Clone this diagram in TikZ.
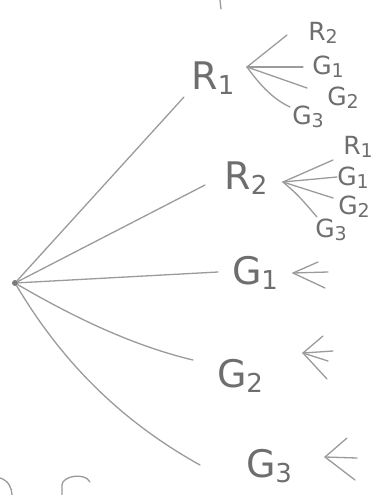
\documentclass[tikz,border=0pt]{standalone}
\usepackage{fontspec}
\setmainfont{DejaVu Sans}
\definecolor{txt}{RGB}{110,110,110}
\definecolor{lnc}{RGB}{155,155,155}
\newcommand\bigsz{\fontsize{38}{38}\selectfont}
\newcommand\subbig[1]{\raisebox{-5pt}{\fontsize{26}{26}\selectfont #1}}
\newcommand\smsz{\fontsize{25}{25}\selectfont}
\newcommand\subsm[1]{\raisebox{-3pt}{\fontsize{19}{19}\selectfont #1}}
\begin{document}
\begin{tikzpicture}[x=1pt,y=-1pt,
  ln/.style={draw=lnc,line width=1.3pt,line cap=round,line join=round},
  bigl/.style={text=txt,font=\bigsz,inner sep=0pt},
  sml/.style={text=txt,font=\smsz,inner sep=0pt}]
\fill[white] (0,0) rectangle (380,495);
\useasboundingbox (0,0) rectangle (380,495);

% root
\node[circle,fill=lnc!80!black,minimum size=6pt,inner sep=0pt] (root) at (15,283) {};

% level-1 labels
\node[bigl] (R1a) at (213,78) {R\subbig{1}};
\node[bigl] (R2a) at (246,178) {R\subbig{2}};
\node[bigl] (G1a) at (255,273) {G\subbig{1}};
\node[bigl] (G2a) at (240,376) {G\subbig{2}};
\node[bigl] (G3a) at (269,466) {G\subbig{3}};

% line ends
\coordinate (eR1) at (184,97);
\coordinate (eR2) at (205,185);
\coordinate (eG1) at (218,272);
\coordinate (eG2) at (193,360);
\coordinate (eG3) at (200,465);

\draw[ln] (root) -- (eR1);
\draw[ln] (root) -- (eR2);
\draw[ln] (root) -- (eG1);
\draw[ln] (root) .. controls (70,315) and (130,345) .. (eG2);
\draw[ln] (root) .. controls (55,350) and (110,415) .. (eG3);

% R1 fan
\coordinate (f1) at (247,67);
\node[sml] (s11) at (323,33) {R\subsm{2}};
\node[sml] (s12) at (328,67) {G\subsm{1}};
\node[sml] (s13) at (343,98) {G\subsm{2}};
\node[sml] (s14) at (308,117) {G\subsm{3}};
\coordinate (f1a) at (287,35);
\coordinate (f1b) at (303,67);
\coordinate (f1c) at (307,88);
\coordinate (f1d) at (290,107);
\draw[ln] (f1) -- (f1a);
\draw[ln] (f1) -- (f1b);
\draw[ln] (f1) -- (f1c);
\draw[ln] (f1) .. controls (262,88) and (275,100) .. (f1d);

% R2 fan
\coordinate (f2) at (283,182);
\node[sml] (s21) at (358,147) {R\subsm{1}};
\node[sml] (s22) at (353,178) {G\subsm{1}};
\node[sml] (s23) at (354,207) {G\subsm{2}};
\node[sml] (s24) at (331,230) {G\subsm{3}};
\coordinate (f2a) at (333,160);
\coordinate (f2b) at (337,177);
\coordinate (f2c) at (333,198);
\coordinate (f2d) at (317,217);
\draw[ln] (f2) -- (f2a);
\draw[ln] (f2) -- (f2b);
\draw[ln] (f2) -- (f2c);
\draw[ln] (f2) .. controls (298,195) .. (f2d);

% G1 stub
\coordinate (a1) at (293,273);
\coordinate (a1a) at (318,262);
\coordinate (a1b) at (328,272);
\coordinate (a1c) at (325,288);
\draw[ln] (a1) -- (a1a);
\draw[ln] (a1) -- (a1b);
\draw[ln] (a1) -- (a1c);

% G2 stub
\coordinate (a2) at (303,353);
\coordinate (a2a) at (323,336);
\coordinate (a2b) at (333,351);
\coordinate (a2c) at (328,361);
\coordinate (a2d) at (327,379);
\draw[ln] (a2) -- (a2a);
\draw[ln] (a2) -- (a2b);
\draw[ln] (a2) -- (a2c);
\draw[ln] (a2) -- (a2d);

% G3 stub
\coordinate (a3) at (325,457);
\coordinate (a3a) at (347,438);
\coordinate (a3b) at (357,458);
\coordinate (a3c) at (355,480);
\draw[ln] (a3) -- (a3a);
\draw[ln] (a3) -- (a3b);
\draw[ln] (a3) -- (a3c);

% cut-off fragments at the edges
\draw[ln] (220,0) -- (221,9);
\draw[ln] (0,478) .. controls (8,480) and (12,488) .. (12,495);
\draw[ln] (62,495) -- (62,485) .. controls (62,476) and (85,472) .. (90,482);
\end{tikzpicture}
\end{document}
